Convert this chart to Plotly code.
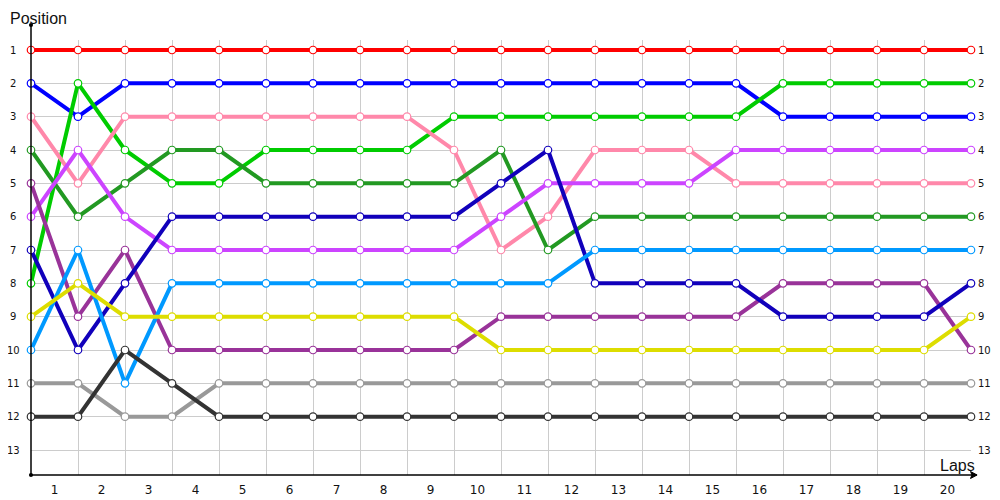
import plotly.graph_objects as go

laps = list(range(21))
lap_labels = [str(i) for i in range(1, 21)]
positions = list(range(1, 14))

drivers = {
    "red": [1] * 21,
    "blue": [2, 3, 2, 2, 2, 2, 2, 2, 2, 2, 2, 2, 2, 2, 2, 2, 3, 3, 3, 3, 3],
    "green": [8, 2, 4, 5, 5, 4, 4, 4, 4, 3, 3, 3, 3, 3, 3, 3, 2, 2, 2, 2, 2],
    "pink": [3, 5, 3, 3, 3, 3, 3, 3, 3, 4, 7, 6, 4, 4, 4, 5, 5, 5, 5, 5, 5],
    "darkgreen": [4, 6, 5, 4, 4, 5, 5, 5, 5, 5, 4, 7, 6, 6, 6, 6, 6, 6, 6, 6, 6],
    "violet": [6, 4, 6, 7, 7, 7, 7, 7, 7, 7, 6, 5, 5, 5, 5, 4, 4, 4, 4, 4, 4],
    "purple": [5, 9, 7, 10, 10, 10, 10, 10, 10, 10, 9, 9, 9, 9, 9, 9, 8, 8, 8, 8, 10],
    "navy": [7, 10, 8, 6, 6, 6, 6, 6, 6, 6, 5, 4, 8, 8, 8, 8, 9, 9, 9, 9, 8],
    "lightblue": [10, 7, 11, 8, 8, 8, 8, 8, 8, 8, 8, 8, 7, 7, 7, 7, 7, 7, 7, 7, 7],
    "yellow": [9, 8, 9, 9, 9, 9, 9, 9, 9, 9, 10, 10, 10, 10, 10, 10, 10, 10, 10, 10, 9],
    "gray": [11, 11, 12, 12, 11, 11, 11, 11, 11, 11, 11, 11, 11, 11, 11, 11, 11, 11, 11, 11, 11],
    "darkgray": [12, 12, 10, 11, 12, 12, 12, 12, 12, 12, 12, 12, 12, 12, 12, 12, 12, 12, 12, 12, 12],
}

colors = {
    "red": "#ff0000",
    "blue": "#0000ff",
    "green": "#00cc00",
    "pink": "#ff88aa",
    "darkgreen": "#229922",
    "violet": "#cc44ff",
    "purple": "#993399",
    "navy": "#1100bb",
    "lightblue": "#0099ff",
    "yellow": "#dddd00",
    "gray": "#999999",
    "darkgray": "#333333",
}

fig = go.Figure()
for name, pos in drivers.items():
    fig.add_trace(
        go.Scatter(
            x=laps,
            y=pos,
            mode="lines+markers",
            name=name,
            line=dict(color=colors[name], width=4),
            marker=dict(size=7.5, color="white", line=dict(color=colors[name], width=1.2)),
            cliponaxis=False,
        )
    )

# page body keeps its default 8px margin, margins are shifted to make up for it
tick_font = dict(family="DejaVu Sans", size=10, color="#111111")
annotations = []
for p in positions:
    annotations.append(dict(x=-0.019, y=p, xref="paper", yref="y", text=str(p), showarrow=False,
                            xanchor="center", font=tick_font))
    annotations.append(dict(x=1, y=p, xref="paper", yref="y", text=str(p), showarrow=False,
                            xanchor="left", xshift=5, font=tick_font))

annotations.append(dict(x=-0.0245, y=1.0725, xref="paper", yref="paper", text="Position", showarrow=False,
                        xanchor="left", yanchor="top", font=dict(family="Liberation Sans", size=16, color="#111111")))
annotations.append(dict(x=1.0065, y=-0.002, xref="paper", yref="paper", text="Laps", showarrow=False,
                        xanchor="right", yanchor="bottom", font=dict(family="Liberation Sans", size=16, color="#111111")))

shapes = [
    dict(type="line", xref="paper", yref="paper", x0=0, y0=0, x1=0, y1=1.0345,
         line=dict(color="black", width=1.5)),
    dict(type="line", xref="paper", yref="paper", x0=0, y0=0, x1=1.006, y1=0,
         line=dict(color="black", width=1.5)),
    dict(type="path", xref="paper", yref="paper",
         path="M 0.9995 -0.008 L 1.0065 0 L 0.9995 0.008 L 1.001 0 Z",
         fillcolor="black", line=dict(color="black", width=1)),
    dict(type="circle", xref="paper", yref="paper", x0=-0.0022, y0=1.030, x1=0.0022, y1=1.039,
         fillcolor="black", line=dict(color="black", width=0)),
    dict(type="circle", xref="paper", yref="paper", x0=-0.0022, y0=-0.0045, x1=0.0022, y1=0.0045,
         fillcolor="black", line=dict(color="black", width=0)),
]

fig.update_layout(
    width=1000,
    height=500,
    margin=dict(l=23, r=37, t=32, b=33),
    plot_bgcolor="white",
    paper_bgcolor="white",
    showlegend=False,
    annotations=annotations,
    shapes=shapes,
    xaxis=dict(
        range=[0, 20],
        tickvals=[i + 0.5 for i in range(20)],
        ticktext=lap_labels,
        showgrid=False,
        zeroline=False,
        showline=False,
        ticks="",
        ticklabelstandoff=6,
        tickfont=dict(family="DejaVu Sans", size=12, color="#111111"),
        minor=dict(tickvals=laps, showgrid=True, gridcolor="#cccccc", gridwidth=1),
    ),
    yaxis=dict(
        range=[13.75, 0.7],
        tickvals=positions,
        showticklabels=False,
        showgrid=True,
        gridcolor="#cccccc",
        gridwidth=1,
        zeroline=False,
        showline=False,
        ticks="",
    ),
)

fig.write_html("out.html")
